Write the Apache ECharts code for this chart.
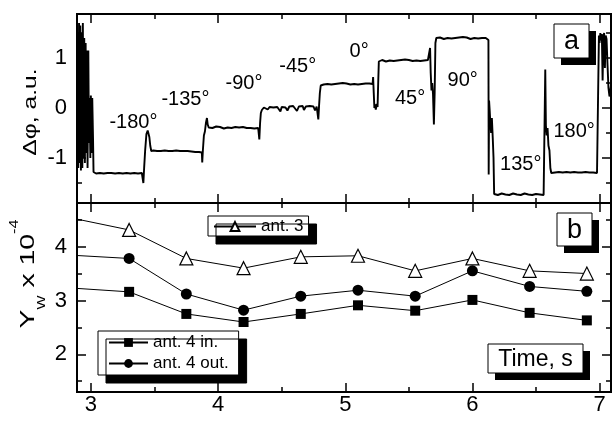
<!DOCTYPE html>
<html><head><meta charset="utf-8">
<script src="https://cdn.jsdelivr.net/npm/echarts@6/dist/echarts.min.js"></script>
<style>html,body{margin:0;padding:0;background:#fff}#c{width:612px;height:423px}</style>
</head><body><div id="c"></div>
<script>
// ---------- Panel a: phase difference trace [time s, value a.u.] ----------
const phaseBurst = [[2.893,0.6],[2.896,1.0],[2.900,-1.20],[2.906,1.70],[2.910,-1.10],[2.916,1.65],[2.921,-1.25],[2.926,1.50],[2.932,-1.20],[2.936,1.70],[2.942,-1.00],[2.947,1.40],[2.952,-1.10],[2.958,1.30],[2.963,-0.90],[2.968,1.15],[2.973,-1.20],[2.979,1.15],[2.984,-0.70],[2.989,0.20],[2.995,-1.00],[2.999,0.25],[3.005,-0.90],[3.010,0.20],[3.016,-0.60],[3.020,-1.28]];
const phaseM180 = [[3.026,-1.30],[3.040,-1.31],[3.055,-1.29],[3.070,-1.30],[3.085,-1.28],[3.100,-1.31],[3.115,-1.29],[3.130,-1.30],[3.145,-1.27],[3.160,-1.30],[3.175,-1.29],[3.190,-1.31],[3.205,-1.28],[3.220,-1.30],[3.235,-1.29],[3.250,-1.31],[3.265,-1.28],[3.280,-1.30],[3.295,-1.29],[3.310,-1.31],[3.325,-1.28],[3.340,-1.30],[3.355,-1.29],[3.370,-1.31],[3.385,-1.29],[3.400,-1.30],[3.409,-1.31],
  [3.412,-1.50],[3.418,-1.20],[3.426,-0.85],[3.436,-0.52],[3.446,-0.45],[3.453,-0.43],[3.459,-0.58],[3.466,-0.75],[3.474,-0.86]];
const phaseM135 = [[3.49,-0.85],[3.505,-0.87],[3.52,-0.86],[3.535,-0.88],[3.55,-0.86],[3.565,-0.87],[3.58,-0.85],[3.595,-0.87],[3.61,-0.86],[3.625,-0.88],[3.64,-0.86],[3.655,-0.87],[3.67,-0.85],[3.685,-0.87],[3.70,-0.86],[3.715,-0.88],[3.73,-0.86],[3.745,-0.87],[3.76,-0.86],[3.775,-0.88],[3.79,-0.87],[3.805,-0.86],[3.82,-0.88],[3.835,-0.87],[3.85,-0.88],[3.865,-0.87],[3.872,-0.89],
  [3.875,-1.09],[3.880,-0.85],[3.888,-0.55],[3.896,-0.47],[3.904,-0.30],[3.912,-0.20],[3.918,-0.33],[3.926,-0.39]];
const phaseM90 = [[3.94,-0.38],[3.955,-0.40],[3.97,-0.39],[3.985,-0.37],[4.00,-0.40],[4.015,-0.38],[4.03,-0.39],[4.045,-0.41],[4.06,-0.38],[4.075,-0.39],[4.09,-0.37],[4.105,-0.40],[4.12,-0.39],[4.135,-0.38],[4.15,-0.40],[4.165,-0.39],[4.18,-0.41],[4.195,-0.38],[4.21,-0.39],[4.225,-0.40],[4.24,-0.38],[4.255,-0.40],[4.27,-0.39],[4.285,-0.41],[4.30,-0.39],[4.315,-0.40],[4.321,-0.40],
  [4.324,-0.63],[4.330,-0.30],[4.336,-0.10],[4.344,-0.04],[4.352,0.00]];
const phaseM45 = [[4.36,0.01],[4.375,0.03],[4.39,-0.03],[4.405,0.02],[4.42,0.03],[4.435,0.01],[4.45,0.03],[4.465,0.02],[4.48,0.03],[4.49,-0.07],[4.50,0.02],[4.515,0.04],[4.53,0.01],[4.545,-0.05],[4.56,0.03],[4.575,0.02],[4.59,0.04],[4.605,0.01],[4.62,-0.06],[4.635,0.03],[4.65,0.02],[4.665,0.04],[4.675,-0.04],[4.69,0.03],[4.705,0.02],[4.72,0.04],[4.735,0.02],[4.75,0.03],[4.762,-0.05],[4.775,0.03],[4.785,0.02],
  [4.788,-0.23],[4.794,0.05],[4.800,0.30],[4.807,0.45],[4.815,0.48]];
const phase0 = [[4.83,0.47],[4.845,0.49],[4.86,0.48],[4.875,0.50],[4.89,0.47],[4.905,0.49],[4.92,0.48],[4.935,0.46],[4.95,0.49],[4.965,0.48],[4.98,0.50],[4.995,0.47],[5.01,0.49],[5.025,0.48],[5.04,0.47],[5.055,0.49],[5.07,0.48],[5.085,0.50],[5.10,0.47],[5.115,0.49],[5.13,0.48],[5.145,0.46],[5.16,0.49],[5.175,0.48],[5.19,0.49],[5.205,0.47],[5.215,0.48],
  [5.219,0.62],[5.224,0.30],[5.229,0.00],[5.234,0.07],[5.240,-0.03],[5.247,0.08],[5.254,0.02],[5.259,0.50],[5.264,0.93]];
const phase45 = [[5.275,0.94],[5.29,0.96],[5.305,0.95],[5.32,0.93],[5.335,0.96],[5.35,0.95],[5.365,0.97],[5.38,0.94],[5.395,0.96],[5.41,0.95],[5.425,0.93],[5.44,0.96],[5.455,0.95],[5.47,0.97],[5.485,0.94],[5.50,0.96],[5.515,0.95],[5.53,0.94],[5.545,0.96],[5.56,0.95],[5.575,0.97],[5.59,0.94],[5.605,0.96],[5.62,0.95],[5.635,0.94],[5.65,0.96],[5.663,0.95],
  [5.667,1.20],[5.672,0.70],[5.678,0.35],[5.684,0.50],[5.690,0.28],[5.697,-0.33],[5.703,0.30],[5.709,1.30],[5.716,1.40]];
const phase90 = [[5.73,1.39],[5.745,1.41],[5.76,1.40],[5.775,1.38],[5.79,1.41],[5.805,1.40],[5.82,1.42],[5.835,1.39],[5.85,1.41],[5.865,1.40],[5.88,1.38],[5.895,1.41],[5.91,1.40],[5.925,1.42],[5.94,1.39],[5.955,1.41],[5.97,1.40],[5.985,1.38],[6.00,1.41],[6.015,1.40],[6.03,1.42],[6.045,1.39],[6.06,1.41],[6.075,1.40],[6.09,1.38],[6.105,1.40],[6.12,1.39],
  [6.126,1.36],[6.128,-1.33],[6.131,0.15],[6.136,-0.05],[6.141,-0.30],[6.147,-0.50],[6.153,-0.20],[6.160,-0.60],[6.166,-1.00],[6.171,-1.72]];
const phase135 = [[6.185,-1.72],[6.20,-1.74],[6.215,-1.73],[6.23,-1.71],[6.245,-1.74],[6.26,-1.73],[6.275,-1.72],[6.29,-1.74],[6.305,-1.73],[6.32,-1.71],[6.335,-1.74],[6.35,-1.73],[6.365,-1.72],[6.38,-1.74],[6.395,-1.73],[6.41,-1.71],[6.425,-1.74],[6.44,-1.73],[6.455,-1.72],[6.47,-1.74],[6.485,-1.73],[6.50,-1.72],[6.515,-1.74],[6.53,-1.73],[6.545,-1.72],[6.56,-1.74],[6.569,-1.73],
  [6.573,0.77],[6.578,-0.35],[6.584,-0.55],[6.591,-0.40],[6.598,-0.75],[6.606,-0.85],[6.613,-1.20],[6.620,-1.30]];
const phase180 = [[6.635,-1.31],[6.65,-1.29],[6.665,-1.30],[6.68,-1.28],[6.695,-1.31],[6.71,-1.29],[6.725,-1.30],[6.74,-1.28],[6.755,-1.31],[6.77,-1.29],[6.785,-1.30],[6.80,-1.28],[6.815,-1.31],[6.83,-1.29],[6.845,-1.30],[6.86,-1.29],[6.875,-1.31],[6.89,-1.28],[6.905,-1.30],[6.92,-1.29],[6.935,-1.31],[6.95,-1.29],[6.965,-1.28],[6.98,-1.30],[6.989,-1.30]];
const phaseEnd = [[6.995,1.45],[7.000,1.30],[7.006,1.50],[7.012,1.35],[7.018,1.48],[7.024,0.55],[7.030,1.40],[7.036,1.50],[7.042,0.80],[7.048,1.45],[7.055,1.38],[7.062,0.90],[7.070,0.40],[7.078,0.23],[7.09,0.45]];

// step annotations in panel a: label text and its anchor (time s, value a.u.)
const stepLabels = ['-180°','-135°','-90°','-45°','0°','45°','90°','135°','180°'];
const stepLabelT = [3.334, 3.743, 4.203, 4.626, 5.109, 5.510, 5.923, 6.380, 6.800];
const stepLabelV = [-0.29, 0.17, 0.50, 0.83, 1.13, 0.19, 0.55, -1.12, -0.47];

// ---------- Panel b: Y_W x 10^-4 ----------
const pointTime = [2.85, 3.3, 3.75, 4.2, 4.65, 5.1, 5.55, 6.0, 6.45, 6.9];
const ant3    = [4.53, 4.31, 3.78, 3.60, 3.81, 3.83, 3.55, 3.78, 3.55, 3.50];
const ant4out = [3.84, 3.78, 3.12, 2.82, 3.08, 3.19, 3.08, 3.55, 3.26, 3.17];
const ant4in  = [3.23, 3.16, 2.75, 2.60, 2.75, 2.91, 2.81, 3.01, 2.77, 2.63];

const X_MIN = 2.89, X_MAX = 7.09;
const YA_MIN = -1.9, YA_MAX = 1.88;
const YB_MIN = 1.3, YB_MAX = 4.81;

const FONT = '"Liberation Sans", Arial, Helvetica, sans-serif';
const phaseData = [].concat(phaseBurst, phaseM180, phaseM135, phaseM90, phaseM45, phase0, phase45, phase90, phase135, phase180, phaseEnd);
const pairs = (ys) => pointTime.map((t, i) => [t, ys[i]]);

function xAx(grid, pos, step, len, labels) {
  return {type:'value', gridIndex:grid, position:pos, min:X_MIN, max:X_MAX, minInterval:step, maxInterval:step,
    axisLine:{show:false, onZero:false}, splitLine:{show:false},
    axisTick:{show:true, inside:true, length:len, lineStyle:{color:'#000', width:1.5}},
    axisLabel:{show:labels, showMinLabel:false, showMaxLabel:false, margin:2, fontSize:22, color:'#000', fontFamily:FONT}};
}
function yAx(grid, pos, mn, mx, step, len, labels) {
  return {type:'value', gridIndex:grid, position:pos, min:mn, max:mx, minInterval:step, maxInterval:step,
    axisLine:{show:false, onZero:false}, splitLine:{show:false},
    axisTick:{show:true, inside:true, length:len, lineStyle:{color:'#000', width:1.5}},
    axisLabel:{show:labels, showMinLabel:false, showMaxLabel:false, margin:10, fontSize:22, color:'#000', fontFamily:FONT}};
}

function tagBox(x, y, w, h, label, size) {
  return {type:'group', z:100, children:[
    {type:'rect', shape:{x:x+7, y:y+7, width:w, height:h}, style:{fill:'#000'}},
    {type:'rect', shape:{x:x, y:y, width:w, height:h}, style:{fill:'#fff', stroke:'#000', lineWidth:1}},
    {type:'text', x:x+w/2, y:y+h/2+1, style:{text:label, fontSize:size, fontFamily:FONT, fill:'#000', align:'center', verticalAlign:'middle'}}
  ]};
}

const chart = echarts.init(document.getElementById('c'), null, {renderer:'canvas'});

const baseGraphic = [
  tagBox(554, 24, 35, 34, 'a', 27),
  tagBox(557, 213, 35, 33, 'b', 27),
  tagBox(488, 344, 95, 29, 'Time, s', 23),
  {type:'text', z:100, x:31, y:112, rotation:Math.PI/2, scaleX:1.3,
   style:{text:'Δφ, a.u.', fontSize:19, fontFamily:FONT, fill:'#000', align:'center', verticalAlign:'middle'}},
  {type:'text', z:100, x:28, y:274, rotation:Math.PI/2, scaleX:1.35,
   style:{text:'{m|Y}{s|W}{m| x 10}{p|-4}', align:'center', verticalAlign:'middle', fill:'#000',
     rich:{
       m:{fontSize:21, fontFamily:FONT, lineHeight:38, fill:'#000', color:'#000', verticalAlign:'middle'},
       s:{fontSize:11, fontFamily:FONT, lineHeight:11, fill:'#000', color:'#000', verticalAlign:'bottom'},
       p:{fontSize:12, fontFamily:FONT, lineHeight:12, fill:'#000', color:'#000', verticalAlign:'top'}
     }}}
];

const option = {
  animation:false,
  backgroundColor:'#fff',
  grid:[
    {left:77, right:1, top:14, height:189, show:true, borderColor:'#000', borderWidth:2, backgroundColor:'transparent', outerBoundsMode:'none'},
    {left:77, right:1, top:203, height:189, show:true, borderColor:'#000', borderWidth:2, backgroundColor:'transparent', outerBoundsMode:'none'}
  ],
  xAxis:[
    xAx(0,'bottom',1,9,false), xAx(0,'bottom',0.5,5,false), xAx(0,'top',1,9,false), xAx(0,'top',0.5,5,false),
    xAx(1,'bottom',1,9,true),  xAx(1,'bottom',0.5,5,false), xAx(1,'top',1,9,false), xAx(1,'top',0.5,5,false)
  ],
  yAxis:[
    yAx(0,'left',YA_MIN,YA_MAX,1,9,true), yAx(0,'left',YA_MIN,YA_MAX,0.5,5,false), yAx(0,'right',YA_MIN,YA_MAX,1,9,false), yAx(0,'right',YA_MIN,YA_MAX,0.5,5,false),
    yAx(1,'left',YB_MIN,YB_MAX,1,9,true), yAx(1,'left',YB_MIN,YB_MAX,0.5,5,false), yAx(1,'right',YB_MIN,YB_MAX,1,9,false), yAx(1,'right',YB_MIN,YB_MAX,0.5,5,false)
  ],
  legend:[
    {data:['ant. 3'], orient:'vertical', left:208, top:216, itemWidth:42, itemHeight:11, selectedMode:false,
     padding:[1,5,0,5], backgroundColor:'#fff', borderColor:'#000', borderWidth:1,
     shadowColor:'#000', shadowBlur:0, shadowOffsetX:8, shadowOffsetY:8,
     textStyle:{fontSize:17, fontFamily:FONT, color:'#000', lineHeight:19}},
    {data:['ant. 4 in.','ant. 4 out.'], orient:'vertical', left:98, top:331, itemWidth:39, itemHeight:11, itemGap:2, selectedMode:false,
     padding:[2,10,2,10], backgroundColor:'#fff', borderColor:'#000', borderWidth:1,
     shadowColor:'#000', shadowBlur:0, shadowOffsetX:8, shadowOffsetY:8,
     textStyle:{fontSize:17, fontFamily:FONT, color:'#000', lineHeight:19}}
  ],
  series:[
    {name:'phase', type:'line', xAxisIndex:0, yAxisIndex:0, data:phaseData, symbol:'none', clip:true,
     lineStyle:{color:'#000', width:1.9}, z:3},
    {name:'ant. 4 in.', type:'line', xAxisIndex:4, yAxisIndex:4, data:pairs(ant4in), clip:true,
     symbol:'rect', symbolSize:10, showAllSymbol:true,
     lineStyle:{color:'#000', width:1}, itemStyle:{color:'#000', borderColor:'#000', borderWidth:0}},
    {name:'ant. 4 out.', type:'line', xAxisIndex:4, yAxisIndex:4, data:pairs(ant4out), clip:true,
     symbol:'circle', symbolSize:11, showAllSymbol:true,
     lineStyle:{color:'#000', width:1}, itemStyle:{color:'#000', borderColor:'#000', borderWidth:0}},
    {name:'ant. 3', type:'line', xAxisIndex:4, yAxisIndex:4, data:pairs(ant3), clip:true,
     symbol:'triangle', symbolSize:13, showAllSymbol:true,
     lineStyle:{color:'#000', width:1}, itemStyle:{color:'#fff', borderColor:'#000', borderWidth:1.2}}
  ],
  graphic: baseGraphic
};
chart.setOption(option);

// place step annotations through the panel-a coordinate system
const stepTexts = stepLabels.map((s, i) => {
  const p = chart.convertToPixel({gridIndex:0}, [stepLabelT[i], stepLabelV[i]]);
  return {type:'text', z:100, x:p[0], y:p[1],
    style:{text:s, fontSize:20, fontFamily:FONT, fill:'#000', align:'center', verticalAlign:'middle'}};
});
chart.setOption({graphic: baseGraphic.concat(stepTexts)});
</script></body></html>
